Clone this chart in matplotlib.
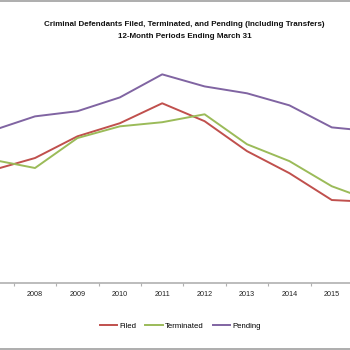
import numpy as np
import matplotlib
matplotlib.use("Agg")
import matplotlib.pyplot as plt
from matplotlib.lines import Line2D

years = ["2007", "2008", "2009", "2010", "2011", "2012", "2013", "2014", "2015", "2016"]
filed = [82800, 86300, 92600, 96400, 102200, 97000, 88300, 81900, 74100, 73500]
terminated = [85800, 83400, 92100, 95500, 96700, 99000, 90300, 85400, 78100, 73600]
pending = [94300, 98400, 99900, 103900, 110600, 107100, 105100, 101600, 95200, 94000]

RED = "#C0504D"
GREEN = "#9BBB59"
PURPLE = "#8064A2"

def main():
    plt.rcParams['font.family'] = ['Liberation Sans', 'DejaVu Sans']
    fig = plt.figure(figsize=(3.5, 3.5), dpi=100)

    # plot area is wider than the picture, the chart is cropped on both sides
    left_px = -28.6
    right_px = 395.4
    ax = fig.add_axes([left_px / 350, (350 - 283) / 350, (right_px - left_px) / 350, (283 - 42) / 350])

    x = np.arange(len(years))
    ax.plot(x, filed, color=RED, lw=1.4, label="Filed")
    ax.plot(x, terminated, color=GREEN, lw=1.4, label="Terminated")
    ax.plot(x, pending, color=PURPLE, lw=1.4, label="Pending")

    ax.set_xlim(-0.5, len(years) - 0.5)
    ax.set_ylim(50000, 120000)
    for s in ["left", "top", "right"]:
        ax.spines[s].set_visible(False)
    ax.spines["bottom"].set_color("#b0b0b0")
    ax.spines["bottom"].set_linewidth(1.2)
    ax.set_yticks([])
    ax.set_xticks(x)
    # first and last year labels fall outside the cropped picture
    shown = ["" if i in (0, len(years) - 1) else y for i, y in enumerate(years)]
    ax.set_xticklabels(shown, fontsize=5.2, color="#222222")
    ax.tick_params(axis="x", which="major", length=0, pad=6)
    ax.set_xticks(np.arange(len(years) + 1) - 0.5, minor=True)
    ax.tick_params(axis="x", which="minor", length=2.5, color="#b0b0b0", width=0.8)

    fig.text(0.527, 0.931, "Criminal Defendants Filed, Terminated, and Pending (Including Transfers)",
             ha="center", va="center", fontsize=5.8, fontweight="bold", color="#111111")
    fig.text(0.527, 0.896, "12-Month Periods Ending March 31",
             ha="center", va="center", fontsize=5.8, fontweight="bold", color="#111111")

    fig.legend(loc="center", bbox_to_anchor=(0.515, 0.069), ncol=3, frameon=False,
               fontsize=5.6, handlelength=2.2, handletextpad=0.3, columnspacing=1.2)

    fig.add_artist(Line2D([0, 1], [0.998, 0.998], transform=fig.transFigure, color="#a0a0a0", lw=1.2))
    fig.add_artist(Line2D([0, 1], [0.003, 0.003], transform=fig.transFigure, color="#a0a0a0", lw=1.2))

    fig.savefig("out.png", dpi=100)
    plt.close(fig)

if __name__ == "__main__":
    main()
